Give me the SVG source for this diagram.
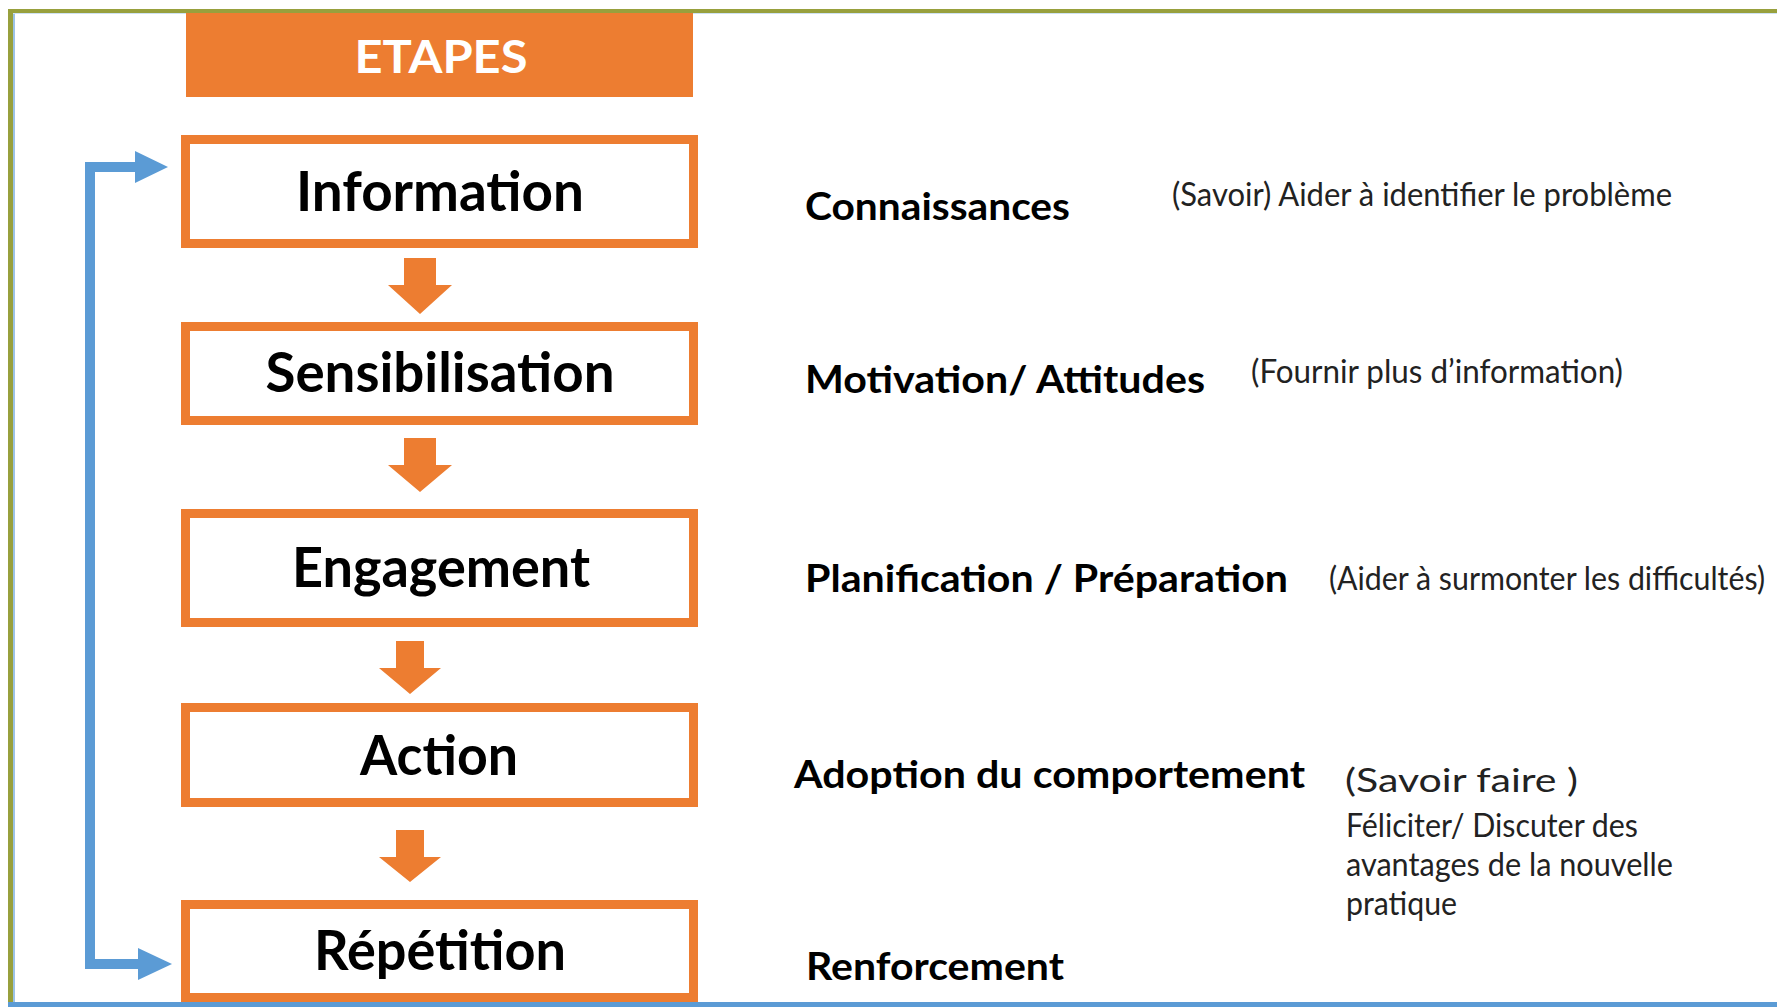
<svg xmlns="http://www.w3.org/2000/svg" width="1777" height="1007" viewBox="0 0 1777 1007">
<style>
.box{fill:#fff;stroke:#ED7D31;stroke-width:9}
.step{font-family:Lato,"Liberation Sans",sans-serif;font-weight:bold;font-size:56px;fill:#000;text-anchor:middle}
.lbl{font-family:Lato,"Liberation Sans",sans-serif;font-weight:bold;font-size:38px;fill:#000}
.note{font-family:Lato,"Liberation Sans",sans-serif;font-size:33px;fill:#222}
.oarrow{fill:#ED7D31}
.bline{fill:none;stroke:#5B9BD5;stroke-width:10}
.bhead{fill:#5B9BD5}
</style>
<rect x="0" y="0" width="1777" height="1007" fill="#fff"/>
<g id="frame">
<rect x="8" y="9" width="1769" height="4" fill="#98A03D"/>
<rect x="8" y="9" width="5" height="998" fill="#98A03D"/>
<rect x="13" y="13" width="2" height="994" fill="#9CC3E6"/>
<rect x="13" y="13" width="1764" height="1" fill="#CFE2F3"/>
<rect x="8" y="1002" width="1769" height="5" fill="#5B9BD5"/>
</g>
<g id="header">
<rect x="186" y="13" width="507" height="84" fill="#ED7D31"/>
<text x="441" y="73" font-family="Lato,'Liberation Sans',sans-serif" font-weight="bold" font-size="45" fill="#fff" text-anchor="middle" textLength="173" lengthAdjust="spacingAndGlyphs">ETAPES</text>
</g>
<g id="connectors">
<polygon class="oarrow" points="404,258 436,258 436,285 452,285 420,314 388,285 404,285"/>
<polygon class="oarrow" points="404,438 436,438 436,465 452,465 420,492 388,465 404,465"/>
<polygon class="oarrow" points="396,641 424,641 424,668 441,668 410,694 379,668 396,668"/>
<polygon class="oarrow" points="396,830 424,830 424,857 441,857 410,882 379,857 396,857"/>
<polyline class="bline" points="137,167 90,167 90,964 140,964"/>
<polygon class="bhead" points="168,167 135,151 135,183"/>
<polygon class="bhead" points="172,964 138,948 138,980"/>
</g>
<g id="node-information">
<rect class="box" x="185.5" y="139.5" width="508" height="104"/>
<text class="step" x="440" y="211" textLength="288" lengthAdjust="spacingAndGlyphs">Information</text>
</g>
<g id="node-sensibilisation">
<rect class="box" x="185.5" y="326.5" width="508" height="94"/>
<text class="step" x="440" y="392" textLength="349" lengthAdjust="spacingAndGlyphs">Sensibilisation</text>
</g>
<g id="node-engagement">
<rect class="box" x="185.5" y="513.5" width="508" height="109"/>
<text class="step" x="441" y="587" textLength="298" lengthAdjust="spacingAndGlyphs">Engagement</text>
</g>
<g id="node-action">
<rect class="box" x="185.5" y="707.5" width="508" height="95"/>
<text class="step" x="439" y="775" textLength="158" lengthAdjust="spacingAndGlyphs">Action</text>
</g>
<g id="node-repetition">
<rect class="box" x="185.5" y="904.5" width="508" height="93"/>
<text class="step" x="440" y="970" textLength="252" lengthAdjust="spacingAndGlyphs">Répétition</text>
</g>
<g id="labels">
<text class="lbl" x="805" y="220" textLength="265" lengthAdjust="spacingAndGlyphs">Connaissances</text>
<text class="note" x="1172" y="206" textLength="500" lengthAdjust="spacingAndGlyphs">(Savoir) Aider à identifier le problème</text>
<text class="lbl" x="805" y="393" textLength="400" lengthAdjust="spacingAndGlyphs">Motivation/ Attitudes</text>
<text class="note" x="1251" y="383" textLength="372" lengthAdjust="spacingAndGlyphs">(Fournir plus d’information)</text>
<text class="lbl" x="805" y="592" textLength="483" lengthAdjust="spacingAndGlyphs">Planification / Préparation</text>
<text class="note" x="1329" y="590" font-size="31" textLength="436" lengthAdjust="spacingAndGlyphs">(Aider à surmonter les difficultés)</text>
<text class="lbl" x="794" y="788" font-size="36" textLength="511" lengthAdjust="spacingAndGlyphs">Adoption du comportement</text>
<text class="note" x="1345" y="792" font-size="36" textLength="233" lengthAdjust="spacingAndGlyphs">(Savoir faire )</text>
<text class="note" x="1346" y="837" font-size="30" textLength="292" lengthAdjust="spacingAndGlyphs">Féliciter/ Discuter des</text>
<text class="note" x="1346" y="876" font-size="30" textLength="327" lengthAdjust="spacingAndGlyphs">avantages de la nouvelle</text>
<text class="note" x="1346" y="915" font-size="30" textLength="111" lengthAdjust="spacingAndGlyphs">pratique</text>
<text class="lbl" x="806" y="980" textLength="258" lengthAdjust="spacingAndGlyphs">Renforcement</text>
</g>
</svg>
